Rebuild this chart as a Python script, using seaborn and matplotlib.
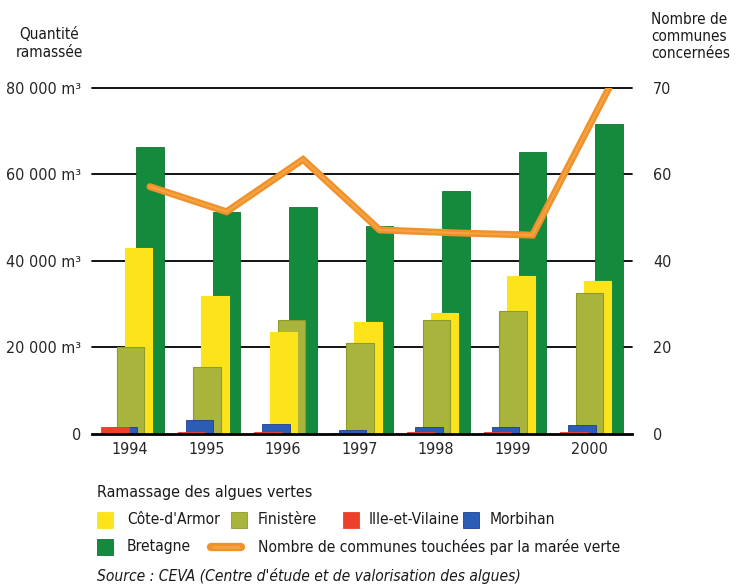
import numpy as np
import pandas as pd
import matplotlib
matplotlib.use("Agg")
import matplotlib.pyplot as plt
import seaborn as sns
from matplotlib.patches import Rectangle
from matplotlib.lines import Line2D

# ---------------- data ----------------
years = ["1994", "1995", "1996", "1997", "1998", "1999", "2000"]
cotes_armor = [42800, 31700, 23400, 25700, 27900, 36500, 35200]
finistere = [20100, 15400, 26200, 20900, 26300, 28400, 32500]
ille_vilaine = [1450, 300, 300, 150, 300, 300, 300]
morbihan = [1600, 3070, 2240, 850, 1450, 1450, 2080]
bretagne = [66300, 51200, 52500, 48000, 56200, 65100, 71600]
communes = [57.1, 51.3, 61.7, 47.1, 46.4, 45.9, 70.0]

left_ticks = [0, 20000, 40000, 60000, 80000]
left_labels = ["0", "20 000 m³", "40 000 m³", "60 000 m³", "80 000 m³"]
right_ticks = [0, 20, 40, 60, 70]

legend_labels = ["Côte-d'Armor", "Finistère", "Ille-et-Vilaine", "Morbihan",
                 "Bretagne", "Nombre de communes touchées par la marée verte"]

# ---------------- style ----------------
sns.set_theme(style="white")
plt.rcParams["font.family"] = ["DejaVu Sans"]
plt.rcParams["font.stretch"] = "condensed"
plt.rcParams["text.color"] = "#1a1a1a"

C_YEL = "#FDE31C"
C_OLI = "#A9B43C"
C_OLI_E = "#8E9B2A"
C_RED = "#EC4128"
C_BLU = "#2C5DB6"
C_BLU_E = "#1D3F8E"
C_GRN = "#148A3C"
C_ORA = "#F0912A"
C_ORA_IN = "#F5A444"

fig = plt.figure(figsize=(7.44, 5.86), dpi=100)
W, H = 744, 586
ax = fig.add_axes([92 / W, 1 - 433.5 / H, (632 - 92) / W, (433.5 - 87.7) / H])

x = np.arange(len(years))
bw = 0.36
off_small_front, off_small_back = -0.196, -0.092
off_big_front, off_big_back = 0.007, 0.111
off_bret = 0.261

# Bretagne (behind everything)
ax.bar(x + off_bret, bretagne, width=bw, color=C_GRN, edgecolor="#0F7532",
       linewidth=0.6, zorder=2)

# pairs: smaller one in front-left, larger behind-right
for i in range(len(years)):
    pair = [(cotes_armor[i], C_YEL, C_YEL), (finistere[i], C_OLI, C_OLI_E)]
    small, big = sorted(pair, key=lambda p: p[0])
    ax.bar(x[i] + off_big_back, big[0], width=bw, color=big[1],
           edgecolor=big[2], linewidth=0.8, zorder=3)
    ax.bar(x[i] + off_big_front, small[0], width=bw, color=small[1],
           edgecolor=small[2], linewidth=0.8, zorder=4)
    pair2 = [(ille_vilaine[i], C_RED, C_RED), (morbihan[i], C_BLU, C_BLU_E)]
    s2, b2 = sorted(pair2, key=lambda p: p[0])
    ax.bar(x[i] + off_small_back, b2[0], width=bw, color=b2[1],
           edgecolor=b2[2], linewidth=0.6, zorder=5)
    ax.bar(x[i] + off_small_front, s2[0], width=bw, color=s2[1],
           edgecolor=s2[2], linewidth=0.6, zorder=6)

ax.set_xlim(-0.497, 6.56)
ax.set_ylim(0, 80000)
for t in left_ticks[1:]:
    ax.axhline(t, color="black", linewidth=1.3, zorder=1, clip_on=False)
ax.set_yticks(left_ticks)
ax.set_yticklabels(left_labels)
ax.set_xticks(x)
ax.set_xticklabels(years)
ax.tick_params(axis="y", length=0, pad=8, labelsize=11.5)
ax.tick_params(axis="x", length=0, pad=6, labelsize=11.5)
for s in ["top", "left", "right"]:
    ax.spines[s].set_visible(False)
ax.spines["bottom"].set_color("black")
ax.spines["bottom"].set_linewidth(2)
ax.spines["bottom"].set_zorder(7)

# right axis with the original's piecewise scale (60->70 stretched)
ax2 = ax.twinx()


def fwd(v):
    v = np.asarray(v, dtype=float)
    return np.where(v <= 60, v, 60 + (v - 60) * 2)


def inv(u):
    u = np.asarray(u, dtype=float)
    return np.where(u <= 60, u, 60 + (u - 60) / 2)


ax2.set_yscale("function", functions=(fwd, inv))
ax2.set_ylim(0, 70)
df_line = pd.DataFrame({"x": x + off_bret, "communes": communes})
sns.lineplot(data=df_line, x="x", y="communes", ax=ax2, color=C_ORA,
             linewidth=5, solid_capstyle="round", solid_joinstyle="miter",
             zorder=10, legend=False)
ax2.plot(x + off_bret, communes, color=C_ORA_IN, linewidth=1.5, zorder=11,
         solid_capstyle="round")
ax2.set_yticks(right_ticks)
ax2.set_yticklabels([str(t) for t in right_ticks])
ax2.yaxis.set_minor_locator(matplotlib.ticker.NullLocator())
ax2.tick_params(axis="y", length=0, pad=15, labelsize=11.5)
ax2.set_ylabel("")
ax2.set_xlabel("")
ax.set_xlabel("")
for s in ax2.spines.values():
    s.set_visible(False)
ax2.set_xlim(ax.get_xlim())

# axis titles
fig.text(49 / W, 1 - 43.5 / H, "Quantité\nramassée", ha="center", va="center",
         fontsize=11, linespacing=1.2)
fig.text(651 / W, 1 - 36.5 / H, "Nombre de\ncommunes\nconcernées", ha="left",
         va="center", fontsize=11, linespacing=1.2)

# legend (manual layout like the original)
fig.text(97 / W, 1 - 493 / H, "Ramassage des algues vertes", ha="left",
         va="center", fontsize=11.5, weight="medium")


def sq(px, py, color, edge):
    fig.patches.append(Rectangle((px / W, 1 - (py + 8) / H), 16 / W, 16 / H,
                                 transform=fig.transFigure, facecolor=color,
                                 edgecolor=edge, linewidth=0.6))


row1 = 520
row2 = 547
fs = 11.2
sq(97, row1, C_YEL, C_YEL)
fig.text(127 / W, 1 - row1 / H, legend_labels[0], va="center", fontsize=fs)
sq(231, row1, C_OLI, C_OLI_E)
fig.text(258 / W, 1 - row1 / H, legend_labels[1], va="center", fontsize=fs)
sq(343, row1, C_RED, C_RED)
fig.text(369 / W, 1 - row1 / H, legend_labels[2], va="center", fontsize=fs)
sq(463, row1, C_BLU, C_BLU_E)
fig.text(490 / W, 1 - row1 / H, legend_labels[3], va="center", fontsize=fs)
sq(97, row2, C_GRN, "#0F7532")
fig.text(127 / W, 1 - row2 / H, legend_labels[4], va="center", fontsize=fs)
fig.lines.append(Line2D([211 / W, 241 / W], [1 - row2 / H, 1 - row2 / H],
                        transform=fig.transFigure, color=C_ORA, linewidth=6,
                        solid_capstyle="round"))
fig.lines.append(Line2D([213 / W, 239 / W], [1 - row2 / H, 1 - row2 / H],
                        transform=fig.transFigure, color=C_ORA_IN,
                        linewidth=2, solid_capstyle="round"))
fig.text(258 / W, 1 - row2 / H, legend_labels[5], va="center", fontsize=fs)

fig.text(97 / W, 1 - 576 / H,
         "Source : CEVA (Centre d'étude et de valorisation des algues)",
         ha="left", va="center", fontsize=fs, style="italic")

fig.savefig("out.png", dpi=100, facecolor="white")
